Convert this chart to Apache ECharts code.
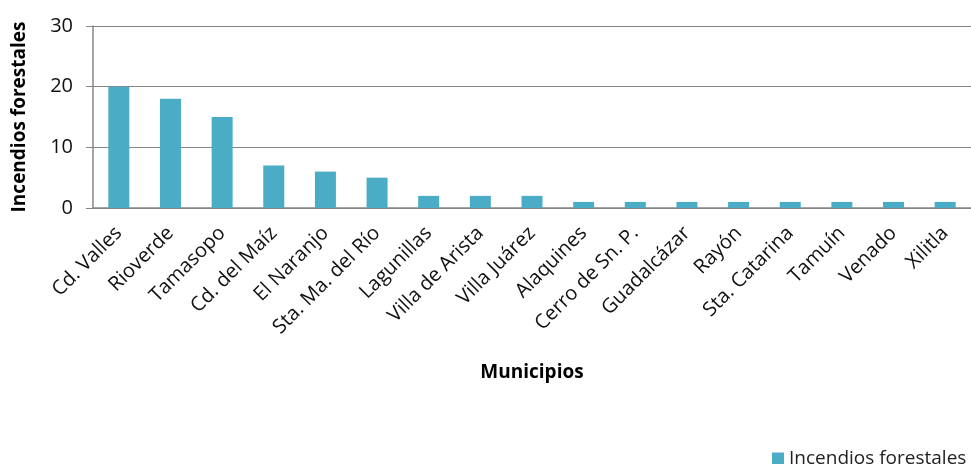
<!DOCTYPE html>
<html><head><meta charset="utf-8">
<script src="https://cdn.jsdelivr.net/npm/echarts@6/dist/echarts.min.js"></script>
<style>html,body{margin:0;padding:0;background:#fff;}#c{width:971px;height:464px;}</style>
</head><body><div id="c"></div>
<script>
const categories = ["Cd. Valles","Rioverde","Tamasopo","Cd. del Maíz","El Naranjo","Sta. Ma. del Río","Lagunillas","Villa de Arista","Villa Juárez","Alaquines","Cerro de Sn. P.","Guadalcázar","Rayón","Sta. Catarina","Tamuín","Venado","Xilitla"];
const values = [20,18,15,7,6,5,2,2,2,1,1,1,1,1,1,1,1];
const yTicks = [0,10,20,30];
const seriesName = "Incendios forestales";
const font = "'Open Sans', 'Noto Sans', sans-serif";
const chart = echarts.init(document.getElementById('c'));
chart.setOption({
  animation:false,
  grid:{left:93, top:26, width:888, height:182, containLabel:false},
  legend:{data:[seriesName], left:767, top:444, itemWidth:12, itemHeight:12, itemGap:5,
    icon:'rect', textStyle:{fontFamily:font, fontSize:19, color:'#222'}},
  xAxis:{type:'category', data:categories,
    name:'Municipios', nameLocation:'middle', nameGap:155,
    nameTextStyle:{fontFamily:font, fontWeight:'bold', fontSize:19, color:'#000'},
    axisLine:{lineStyle:{color:'#868686', width:1.5}},
    axisTick:{show:false},
    axisLabel:{rotate:45, interval:0, fontFamily:font, fontSize:20, color:'#111', margin:22}},
  yAxis:{type:'value', min:yTicks[0], max:yTicks[yTicks.length-1], interval:10,
    name:'Incendios forestales', nameLocation:'middle', nameGap:64,
    nameTextStyle:{fontFamily:font, fontWeight:'bold', fontSize:19, color:'#000'},
    axisLine:{show:true, lineStyle:{color:'#868686', width:1.5}},
    axisTick:{show:true, length:7, lineStyle:{color:'#868686'}},
    splitLine:{lineStyle:{color:'#868686', width:1.2}},
    axisLabel:{fontFamily:font, fontSize:20, color:'#111', margin:20}},
  series:[{name:seriesName, type:'bar', data:values, barWidth:21,
    itemStyle:{color:'#4bacc6'}}]
});
</script></body></html>
